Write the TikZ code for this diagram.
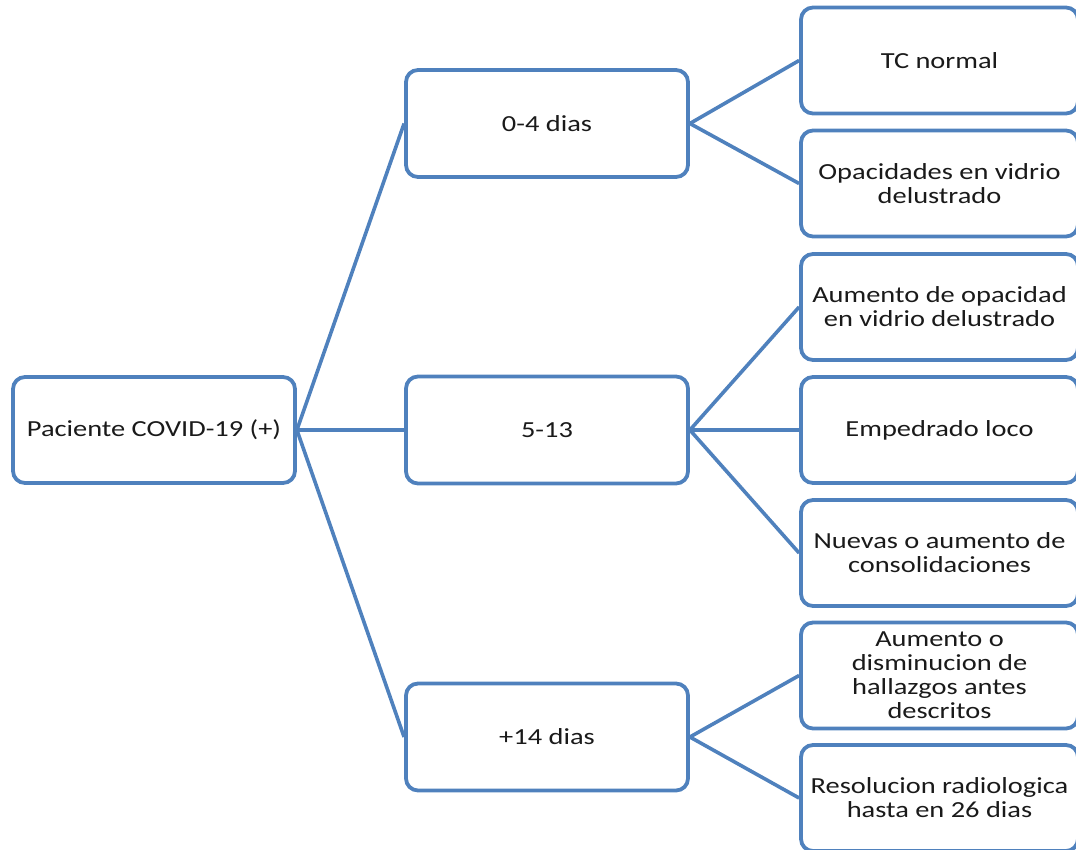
\documentclass[tikz,border=0pt]{standalone}
\usepackage{fontspec}
\setmainfont{Carlito}[FakeStretch=1.235]
\definecolor{boxblue}{HTML}{4F81BD}
\definecolor{txt}{HTML}{1A1A1A}
\begin{document}
\begin{tikzpicture}[x=1pt,y=-1pt,
  box/.style={draw=boxblue,line width=3.8pt,rounded corners=12pt,fill=white,
    align=center,inner sep=0pt,text=txt,
    font=\fontsize{23}{24}\selectfont},
  rootbox/.style={box,minimum width=282pt,minimum height=106pt},
  midbox/.style={box,minimum width=282pt,minimum height=107pt},
  leafbox/.style={box,minimum width=277pt,minimum height=106pt},
  link/.style={draw=boxblue,line width=3.6pt}]
\useasboundingbox (0,0) rectangle (1076,849);
\node[rootbox] (root) at (154,430) {Paciente COVID-19 (+)};
\node[midbox] (m1) at (547,123.5) {0-4 dias};
\node[midbox] (m2) at (547,430) {5-13};
\node[midbox] (m3) at (547,737) {+14 dias};
\node[leafbox] (l1) at (939.5,60.5) {TC normal};
\node[leafbox] (l2) at (939.5,183.5) {Opacidades en vidrio\\delustrado};
\node[leafbox] (l3) at (939.5,307) {Aumento de opacidad\\en vidrio delustrado};
\node[leafbox] (l4) at (939.5,430) {Empedrado loco};
\node[leafbox] (l5) at (939.5,553) {Nuevas o aumento de\\consolidaciones};
\node[leafbox] (l6) at (939.5,675.5) {Aumento o\\disminucion de\\hallazgos antes\\descritos};
\node[leafbox] (l7) at (939.5,798) {Resolucion radiologica\\hasta en 26 dias};
\draw[link] (root.east) -- (m1.west);
\draw[link] (root.east) -- (m2.west);
\draw[link] (root.east) -- (m3.west);
\draw[link] (m1.east) -- (l1.west);
\draw[link] (m1.east) -- (l2.west);
\draw[link] (m2.east) -- (l3.west);
\draw[link] (m2.east) -- (l4.west);
\draw[link] (m2.east) -- (l5.west);
\draw[link] (m3.east) -- (l6.west);
\draw[link] (m3.east) -- (l7.west);
\end{tikzpicture}
\end{document}
